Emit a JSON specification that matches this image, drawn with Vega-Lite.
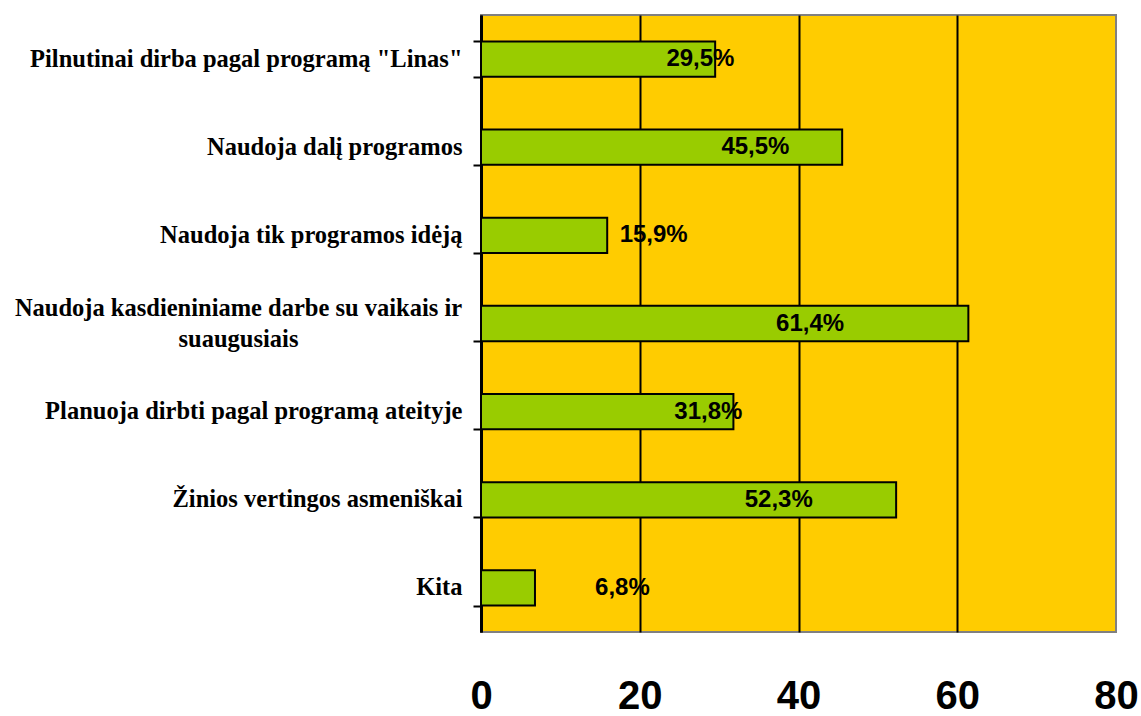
{
  "$schema": "https://vega.github.io/schema/vega-lite/v6.json",
  "width": 635,
  "height": 617,
  "autosize": {"type": "none"},
  "padding": {"left": 481, "top": 15, "right": 25, "bottom": 84},
  "background": "#FFFFFF",
  "config": {
    "view": {"stroke": "#808080", "strokeWidth": 2, "fill": "#FFCC00"}
  },
  "data": {
    "values": [
      {"category": "Pilnutinai dirba pagal programą \"Linas\"", "value": 29.5, "label": "29,5%"},
      {"category": "Naudoja dalį programos", "value": 45.5, "label": "45,5%"},
      {"category": "Naudoja tik programos idėją", "value": 15.9, "label": "15,9%"},
      {"category": "Naudoja kasdieniniame darbe su vaikais ir suaugusiais", "value": 61.4, "label": "61,4%"},
      {"category": "Planuoja dirbti pagal programą ateityje", "value": 31.8, "label": "31,8%"},
      {"category": "Žinios vertingos asmeniškai", "value": 52.3, "label": "52,3%"},
      {"category": "Kita", "value": 6.8, "label": "6,8%"}
    ]
  },
  "layer": [
    {
      "mark": {"type": "bar", "fill": "#99CC00", "stroke": "#000000", "strokeWidth": 2},
      "encoding": {
        "y": {
          "field": "category",
          "type": "nominal",
          "sort": null,
          "scale": {"paddingInner": 0.6, "paddingOuter": 0.3},
          "axis": {
            "title": null,
            "labelFont": "Liberation Serif",
            "labelFontWeight": "bold",
            "labelFontSize": 24.5,
            "labelColor": "#000000",
            "labelLimit": 600,
            "labelLineHeight": 31,
            "labelExpr": "datum.label == 'Naudoja kasdieniniame darbe su vaikais ir suaugusiais' ? ['Naudoja kasdieniniame darbe su vaikais ir', 'suaugusiais'] : datum.label",
            "labelAlign": {"condition": {"test": "datum.label == 'Naudoja kasdieniniame darbe su vaikais ir suaugusiais'", "value": "center"}, "value": "right"},
            "labelPadding": {"condition": {"test": "datum.label == 'Naudoja kasdieniniame darbe su vaikais ir suaugusiais'", "value": 235}, "value": 11},
            "labelOffset": {"condition": {"test": "datum.label == 'Naudoja kasdieniniame darbe su vaikais ir suaugusiais'", "value": -15}, "value": 0},
            "tickBand": "extent",
            "tickSize": 8,
            "tickWidth": 2,
            "tickColor": "#000000",
            "domainColor": "#000000",
            "domainWidth": 3,
            "grid": false
          }
        },
        "x": {
          "field": "value",
          "type": "quantitative",
          "scale": {"domain": [0, 80], "nice": false},
          "axis": {
            "title": null,
            "values": [0, 20, 40, 60, 80],
            "grid": true,
            "gridColor": {"condition": {"test": "datum.value == 80", "value": "transparent"}, "value": "#000000"},
            "gridWidth": 2,
            "domain": false,
            "ticks": false,
            "labelFont": "Liberation Sans",
            "labelFontWeight": "bold",
            "labelFontSize": 40,
            "labelColor": "#000000",
            "labelPadding": 44,
            "labelFlush": false
          }
        }
      }
    },
    {
      "mark": {"type": "text", "font": "Liberation Sans", "fontWeight": "bold", "fontSize": 24, "color": "#000000", "align": "center", "baseline": "middle"},
      "encoding": {
        "y": {"field": "category", "type": "nominal", "sort": null},
        "x": {"field": "value", "type": "quantitative", "scale": {"domain": [0, 80], "range": [118, 393], "nice": false}, "axis": null},
        "text": {"field": "label"}
      }
    }
  ],
  "resolve": {"scale": {"x": "independent"}}
}
